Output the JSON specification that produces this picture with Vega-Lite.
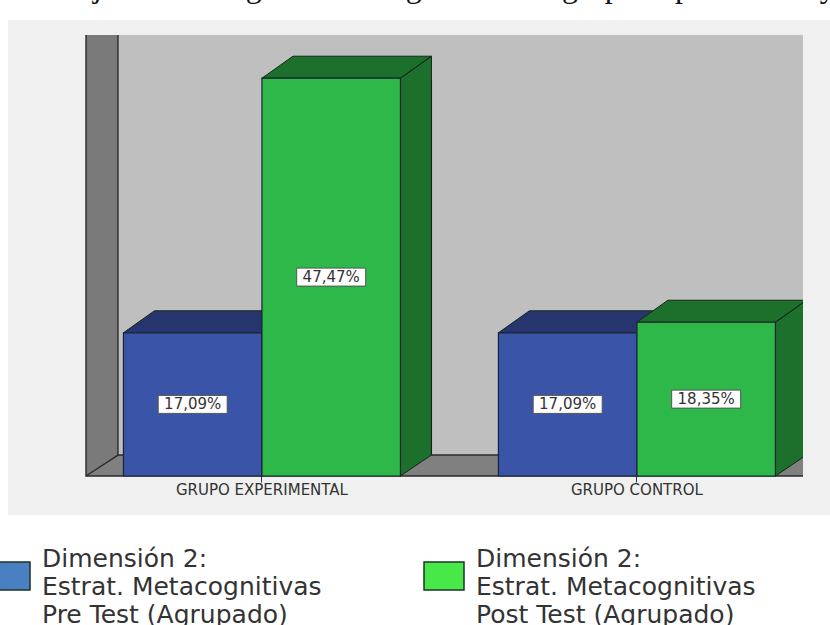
{
  "$schema": "https://vega.github.io/schema/vega-lite/v6.json",
  "autosize": {"type": "none"},
  "padding": {"left": 8, "top": 20, "right": 0, "bottom": 110},
  "width": 822,
  "height": 495,
  "background": "white",
  "view": {"fill": "#f0f0f0", "stroke": null},
  "config": {"axis": {"grid": false}},
  "title": {
    "text": "Porcentaje de estrategias meta cognitivas del grupo experimental y",
    "font": "Liberation Serif",
    "fontSize": 32,
    "fontWeight": "normal",
    "color": "#111111",
    "anchor": "start",
    "frame": "group",
    "offset": 16,
    "dx": -27
  },
  "datasets": {
    "bars": [
      {"grupo": "GRUPO EXPERIMENTAL", "serie": "Pre", "media": 17.09},
      {"grupo": "GRUPO EXPERIMENTAL", "serie": "Post", "media": 47.47},
      {"grupo": "GRUPO CONTROL", "serie": "Pre", "media": 17.09},
      {"grupo": "GRUPO CONTROL", "serie": "Post", "media": 18.35}
    ],
    "pared": [
      {"f": 0.0446, "alto": 52.63, "bajo": 2.5},
      {"f": 1, "alto": 52.63, "bajo": 2.5}
    ],
    "paredLateral": [
      {"f": 0, "alto": 52.63, "bajo": 0},
      {"f": 0.0446, "alto": 52.63, "bajo": 2.5}
    ],
    "piso": [
      {"f": 0, "alto": 0, "bajo": 0},
      {"f": 0.0446, "alto": 2.5, "bajo": 0},
      {"f": 1, "alto": 2.5, "bajo": 0}
    ],
    "aristas": [
      {"borde": "a", "f": 0, "v": 52.63},
      {"borde": "a", "f": 0, "v": 0},
      {"borde": "a", "f": 1, "v": 0},
      {"borde": "b", "f": 0.0446, "v": 52.63},
      {"borde": "b", "f": 0.0446, "v": 2.5},
      {"borde": "b", "f": 1, "v": 2.5},
      {"borde": "c", "f": 0, "v": 0},
      {"borde": "c", "f": 0.0446, "v": 2.5}
    ],
    "margenDerecho": [
      {"f": 1, "alto": 54.415, "bajo": -4.654},
      {"f": 1.0377, "alto": 54.415, "bajo": -4.654}
    ]
  },
  "resolve": {"scale": {"x": "independent"}},
  "layer": [
    {
      "data": {"name": "paredLateral"},
      "mark": {"type": "area", "color": "#7a7a7a"},
      "encoding": {
        "x": {"field": "f", "type": "quantitative", "scale": {"domain": [0, 1], "range": [78, 795]}, "axis": null},
        "y": {
          "field": "alto",
          "type": "quantitative",
          "scale": {"domain": [-4.654, 54.415], "nice": false, "zero": false},
          "axis": {
            "title": "Media",
            "titleFont": "Liberation Sans",
            "titleFontSize": 14,
            "titleFontWeight": "bold",
            "titleColor": "#111111",
            "titleY": 232,
            "labels": false,
            "ticks": false,
            "domain": false,
            "grid": false,
            "offset": -60,
            "titlePadding": 0
          }
        },
        "y2": {"field": "bajo"}
      }
    },
    {
      "data": {"name": "pared"},
      "mark": {"type": "area", "color": "#bfbfbf"},
      "encoding": {
        "x": {"field": "f", "type": "quantitative", "scale": {"domain": [0, 1], "range": [78, 795]}, "axis": null},
        "y": {"field": "alto", "type": "quantitative", "scale": {"domain": [-4.654, 54.415], "nice": false, "zero": false}, "axis": null},
        "y2": {"field": "bajo"}
      }
    },
    {
      "data": {"name": "piso"},
      "mark": {"type": "area", "color": "#808080"},
      "encoding": {
        "x": {"field": "f", "type": "quantitative", "scale": {"domain": [0, 1], "range": [78, 795]}, "axis": null},
        "y": {"field": "alto", "type": "quantitative", "scale": {"domain": [-4.654, 54.415], "nice": false, "zero": false}, "axis": null},
        "y2": {"field": "bajo"}
      }
    },
    {
      "data": {"name": "aristas"},
      "mark": {"type": "line", "color": "#2a2a2a", "strokeWidth": 1.4},
      "encoding": {
        "x": {"field": "f", "type": "quantitative", "scale": {"domain": [0, 1], "range": [78, 795]}, "axis": null},
        "y": {"field": "v", "type": "quantitative", "scale": {"domain": [-4.654, 54.415], "nice": false, "zero": false}, "axis": null},
        "detail": {"field": "borde"},
        "order": {"value": null}
      }
    },
    {
      "data": {"name": "bars"},
      "transform": [
        {"calculate": "datum.media / 2", "as": "centro"},
        {"calculate": "replace(format(datum.media, '.2f'), '.', ',') + '%'", "as": "etiqueta"},
        {"calculate": "2.5", "as": "suelo"}
      ],
      "encoding": {
        "x": {
          "field": "grupo",
          "type": "nominal",
          "sort": ["GRUPO EXPERIMENTAL", "GRUPO CONTROL"],
          "scale": {"paddingInner": 0.2613, "paddingOuter": 0.2267, "align": 0.679},
          "axis": {
            "title": null,
            "domain": false,
            "ticks": true,
            "tickSize": 6,
            "tickColor": "#333333",
            "labelAngle": 0,
            "labelFont": "DejaVu Sans",
            "labelFontSize": 15,
            "labelColor": "#333333",
            "labelPadding": 0,
            "labelLimit": 300,
            "offset": -39
          }
        }
      },
      "resolve": {"scale": {"xOffset": "independent", "fill": "independent"}},
      "layer": [
        {
          "mark": {"type": "bar", "width": 31},
          "encoding": {
            "xOffset": {"field": "serie", "type": "nominal", "sort": ["Pre", "Post"], "scale": {"type": "band", "range": [85, 362], "paddingInner": 0, "paddingOuter": 0}},
            "y": {"field": "media", "type": "quantitative", "scale": {"domain": [-4.654, 54.415], "nice": false, "zero": false}, "axis": null},
            "y2": {"field": "suelo"},
            "fill": {"field": "serie", "type": "nominal", "scale": {"domain": ["Pre", "Post"], "range": ["#27356f", "#1c702c"]}, "legend": null}
          }
        },
        {
          "mark": {"type": "rule", "stroke": "#14281a", "strokeWidth": 1.2},
          "encoding": {
            "xOffset": {"field": "serie", "type": "nominal", "sort": ["Pre", "Post"], "scale": {"type": "band", "range": [100.25, 377.25], "paddingInner": 0, "paddingOuter": 0}},
            "y": {"field": "media", "type": "quantitative", "scale": {"domain": [-4.654, 54.415], "nice": false, "zero": false}, "axis": null},
            "y2": {"field": "suelo"}
          }
        },
        {
          "mark": {"type": "point", "filled": true, "opacity": 1, "size": 4, "stroke": "#14281a", "strokeWidth": 1, "shape": "M69.25,-21.5L69.25,0L100.25,-21L100.25,-21.5"},
          "encoding": {
            "xOffset": {"field": "serie", "type": "nominal", "sort": ["Pre", "Post"], "scale": {"type": "band", "paddingInner": 0, "paddingOuter": 0}},
            "y": {"datum": 0, "type": "quantitative", "scale": {"domain": [-4.654, 54.415], "nice": false, "zero": false}, "axis": null},
            "fill": {"field": "serie", "type": "nominal", "scale": {"domain": ["Pre", "Post"], "range": ["#27356f", "#1c702c"]}, "legend": null}
          }
        },
        {
          "mark": {"type": "point", "filled": true, "opacity": 1, "size": 4, "stroke": "#14281a", "strokeWidth": 1, "shape": "M-69.25,0L-38.25,-22L100.25,-22L69.25,0Z M100.25,1L100.25,-22L69.25,0L69.25,1"},
          "encoding": {
            "xOffset": {"field": "serie", "type": "nominal", "sort": ["Pre", "Post"], "scale": {"type": "band", "paddingInner": 0, "paddingOuter": 0}},
            "y": {"field": "media", "type": "quantitative", "scale": {"domain": [-4.654, 54.415], "nice": false, "zero": false}, "axis": null},
            "fill": {"field": "serie", "type": "nominal", "scale": {"domain": ["Pre", "Post"], "range": ["#27356f", "#1c702c"]}, "legend": null}
          }
        },
        {
          "mark": {"type": "bar", "width": 138.5, "stroke": "#1b2233", "strokeWidth": 1.2},
          "encoding": {
            "xOffset": {"field": "serie", "type": "nominal", "sort": ["Pre", "Post"], "scale": {"type": "band", "paddingInner": 0, "paddingOuter": 0}},
            "y": {"field": "media", "type": "quantitative", "scale": {"domain": [-4.654, 54.415], "nice": false, "zero": false}, "axis": null},
            "y2": {"datum": 0},
            "fill": {"field": "serie", "type": "nominal", "scale": {"domain": ["Pre", "Post"], "range": ["#3a55a8", "#2eb84a"]}, "legend": null}
          }
        },
        {
          "mark": {"type": "point", "filled": true, "opacity": 1, "size": 0, "stroke": "#1b3324", "strokeWidth": 1.5},
          "encoding": {
            "xOffset": {"field": "serie", "type": "nominal", "sort": ["Pre", "Post"], "scale": {"type": "band", "paddingInner": 0, "paddingOuter": 0}},
            "y": {"field": "media", "type": "quantitative", "scale": {"domain": [-4.654, 54.415], "nice": false, "zero": false}, "axis": null},
            "fill": {
              "field": "serie",
              "type": "nominal",
              "scale": {"domain": ["Pre", "Post"], "range": ["#4a7fc4", "#48e848"]},
              "legend": {
                "title": null,
                "orient": "none",
                "legendX": -19,
                "legendY": 535,
                "columns": 2,
                "columnPadding": 99,
                "symbolType": "M-1,-0.7H1V0.7H-1Z",
                "symbolSize": 1600,
                "symbolStrokeWidth": 1.5,
                "symbolStrokeColor": "#1b3324",
                "labelFont": "DejaVu Sans",
                "labelFontSize": 25,
                "labelColor": "#333333",
                "labelLimit": 400,
                "labelOffset": 11,
                "labelBaseline": "top",
                "labelExpr": "['Dimensión 2:', 'Estrat. Metacognitivas', (datum.value === 'Pre' ? 'Pre' : 'Post') + ' Test (Agrupado)']",
                "encoding": {
                  "symbols": {
                    "opacity": {"value": 1}
                  },
                  "labels": {
                    "lineHeight": {"value": 28},
                    "dy": {"value": -29}
                  }
                }
              }
            }
          }
        },
        {
          "mark": {"type": "point", "filled": true, "opacity": 1, "size": 4, "fill": "white", "stroke": "#555555", "strokeWidth": 1, "shape": "M-34.5,-9H34.5V9H-34.5Z"},
          "encoding": {
            "xOffset": {"field": "serie", "type": "nominal", "sort": ["Pre", "Post"], "scale": {"type": "band", "paddingInner": 0, "paddingOuter": 0}},
            "y": {"field": "centro", "type": "quantitative", "scale": {"domain": [-4.654, 54.415], "nice": false, "zero": false}, "axis": null}
          }
        },
        {
          "mark": {"type": "text", "font": "DejaVu Sans", "fontSize": 15, "color": "#333333", "align": "center", "baseline": "middle"},
          "encoding": {
            "xOffset": {"field": "serie", "type": "nominal", "sort": ["Pre", "Post"], "scale": {"type": "band", "paddingInner": 0, "paddingOuter": 0}},
            "y": {"field": "centro", "type": "quantitative", "scale": {"domain": [-4.654, 54.415], "nice": false, "zero": false}, "axis": null},
            "text": {"field": "etiqueta"}
          }
        }
      ]
    },
    {
      "data": {"name": "margenDerecho"},
      "mark": {"type": "area", "color": "#f0f0f0", "clip": false},
      "encoding": {
        "x": {"field": "f", "type": "quantitative", "scale": {"domain": [0, 1], "range": [78, 795]}, "axis": null},
        "y": {"field": "alto", "type": "quantitative", "scale": {"domain": [-4.654, 54.415], "nice": false, "zero": false}, "axis": null},
        "y2": {"field": "bajo"}
      }
    }
  ]
}
